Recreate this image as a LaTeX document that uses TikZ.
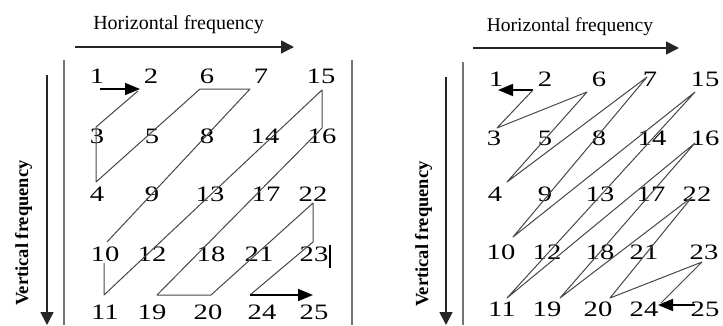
\documentclass[tikz,border=0pt]{standalone}
\usepackage{fontspec}
\setmainfont{Liberation Serif}
\usetikzlibrary{arrows.meta}
\begin{document}
\begin{tikzpicture}[x=1pt,y=-1pt,
  num/.style={inner sep=0pt, font=\fontsize{22}{22}\selectfont},
  zz/.style={draw=black!72, line width=1pt, line join=round},
  axisarrow/.style={draw=black!85, line width=1.7pt, -{Triangle[length=13pt,width=13pt]}},
  scanarrow/.style={draw=black, line width=1.6pt, -{Triangle[length=15pt,width=12pt]}},
  rulel/.style={draw=black!55, line width=1.4pt},
  hlab/.style={font=\fontsize{20}{20}\selectfont, anchor=base, inner sep=0pt},
  vlab/.style={font=\bfseries\fontsize{18.5}{18.5}\selectfont, rotate=90, anchor=base, inner sep=0pt}]
\useasboundingbox (0,0) rectangle (723,325);
\newcommand\nm[1]{\scalebox{1.3}[1]{#1}}
% ---------- left panel ----------
\node[hlab] (lhl) at (178.5,29) {Horizontal frequency};
\node[vlab] (lvl) at (28,233) {Vertical frequency};
\coordinate (lh0) at (75,47); \coordinate (lh1) at (294,47);
\coordinate (lv0) at (47,75); \coordinate (lv1) at (47,325);
\coordinate (lr0) at (64,60); \coordinate (lr1) at (64,325);
\coordinate (ls0) at (352,60); \coordinate (ls1) at (352,325);
\draw[axisarrow] (lh0) -- (lh1);
\draw[axisarrow] (lv0) -- (lv1);
\draw[rulel] (lr0) -- (lr1);
\draw[rulel] (ls0) -- (ls1);
\foreach \n/\x/\y in {1/97/76,2/151/76,6/207/76,7/261/76,15/321/76,
  3/97/136,5/152/136,8/207/136,14/265/136,16/322/136,
  4/97/194,9/152/194,13/210/194,17/266/194,22/313/194,
  10/105/254,12/152/254,18/211/254,21/259/254,23/314/254,
  11/105/312,19/152/312,20/208/312,24/262/312,25/314/312}
  \node[num] (l\n) at (\x,\y) {\nm{\n}};
\coordinate (la0) at (100,89); \coordinate (la1) at (140,89);
\coordinate (lp1) at (138,91); \coordinate (lp2) at (96,127);
\coordinate (lp3) at (96,182); \coordinate (lp4) at (200,89);
\coordinate (lp5) at (250,89); \coordinate (lp6) at (107,242);
\coordinate (lq1) at (104,263); \coordinate (lq2) at (104,295);
\coordinate (lq3) at (322,90); \coordinate (lq4) at (322,128);
\coordinate (lq5) at (157,295); \coordinate (lq6) at (211,295);
\coordinate (lq7) at (313,203); \coordinate (lq8) at (313,242);
\coordinate (lq9) at (250,295); \coordinate (lb1) at (313,295);
\coordinate (lbar0) at (330,245); \coordinate (lbar1) at (330,268);
\draw[scanarrow] (la0) -- (la1);
\draw[zz] (lp1) -- (lp2) -- (lp3) -- (lp4) -- (lp5) -- (lp6);
\draw[zz] (lq1) -- (lq2) -- (lq3) -- (lq4) -- (lq5) -- (lq6) -- (lq7) -- (lq8) -- (lq9);
\draw[scanarrow] (lq9) -- (lb1);
\draw[line width=2.5pt] (lbar0) -- (lbar1);
% ---------- right panel ----------
\node[hlab, font=\fontsize{19.5}{19.5}\selectfont] (rhl) at (570,31) {Horizontal frequency};
\node[vlab] (rvl) at (428,234) {Vertical frequency};
\coordinate (rh0) at (473,48); \coordinate (rh1) at (679,48);
\coordinate (rv0) at (446,77); \coordinate (rv1) at (446,325);
\coordinate (rr0) at (463,62); \coordinate (rr1) at (463,325);
\draw[axisarrow] (rh0) -- (rh1);
\draw[axisarrow] (rv0) -- (rv1);
\draw[rulel] (rr0) -- (rr1);
\foreach \n/\x/\y in {1/496/79,2/545/79,6/599/79,7/650/79,15/705/79,
  3/494/138,5/545/138,8/599/138,14/652/138,16/705/138,
  4/495/194,9/545/194,13/600/194,17/651/194,22/697/194,
  10/501/252,12/547/252,18/600/252,21/644/252,23/704/252,
  11/502/309,19/547/309,20/598/309,24/644/309,25/705/309}
  \node[num] (r\n) at (\x,\y) {\nm{\n}};
\coordinate (ra0) at (533,90); \coordinate (ra1) at (498,90);
\coordinate (rp1) at (497,128); \coordinate (rp2) at (587,92);
\coordinate (rp3) at (507,182); \coordinate (rp4) at (647,77);
\coordinate (rp5) at (513,237); \coordinate (rp6) at (695,92);
\coordinate (rp7) at (507,298); \coordinate (rp8) at (695,143);
\coordinate (rp9) at (560,298); \coordinate (rp10) at (692,197);
\coordinate (rp11) at (610,298); \coordinate (rp12) at (702,262);
\coordinate (rp13) at (661,303);
\coordinate (rb0) at (695,305); \coordinate (rb1) at (658,305);
\draw[scanarrow] (ra0) -- (ra1);
\draw[zz] (ra0) -- (rp1) -- (rp2) -- (rp3) -- (rp4) -- (rp5) -- (rp6) -- (rp7) -- (rp8) -- (rp9) -- (rp10) -- (rp11) -- (rp12) -- (rp13);
\draw[scanarrow] (rb0) -- (rb1);
\end{tikzpicture}
\end{document}
